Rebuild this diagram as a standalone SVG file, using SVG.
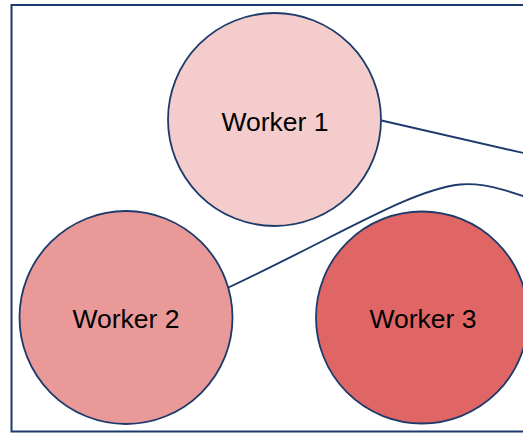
<svg xmlns="http://www.w3.org/2000/svg" width="523" height="433" viewBox="0 0 523 433">
  <style>
    .frame { fill: #ffffff; stroke: #1c3a6b; stroke-width: 2; }
    .node { stroke: #1c3a6b; stroke-width: 1.8; }
    .edge { fill: none; stroke: #1c3a6b; stroke-width: 1.9; }
    .label { font-family: "Liberation Sans", Arial, sans-serif; font-size: 26.5px; fill: #000000; text-anchor: middle; }
  </style>
  <rect class="frame" x="11.5" y="5" width="620" height="426.5"/>
  <g id="connectors">
    <path class="edge" d="M381.5,120.5 L600,170.5"/>
    <path class="edge" d="M228.5,287.5 C340,235 410,190 460,184.5 C485,182 515,192 560,210"/>
  </g>
  <g id="worker1">
    <circle class="node" cx="274.5" cy="119.5" r="106.5" fill="#f4cccc"/>
    <text class="label" x="275" y="131">Worker 1</text>
  </g>
  <g id="worker2">
    <circle class="node" cx="126" cy="317.5" r="106.5" fill="#ea9999"/>
    <text class="label" x="126" y="328">Worker 2</text>
  </g>
  <g id="worker3">
    <circle class="node" cx="422" cy="317.5" r="106" fill="#e06666"/>
    <text class="label" x="423" y="328">Worker 3</text>
  </g>
</svg>
